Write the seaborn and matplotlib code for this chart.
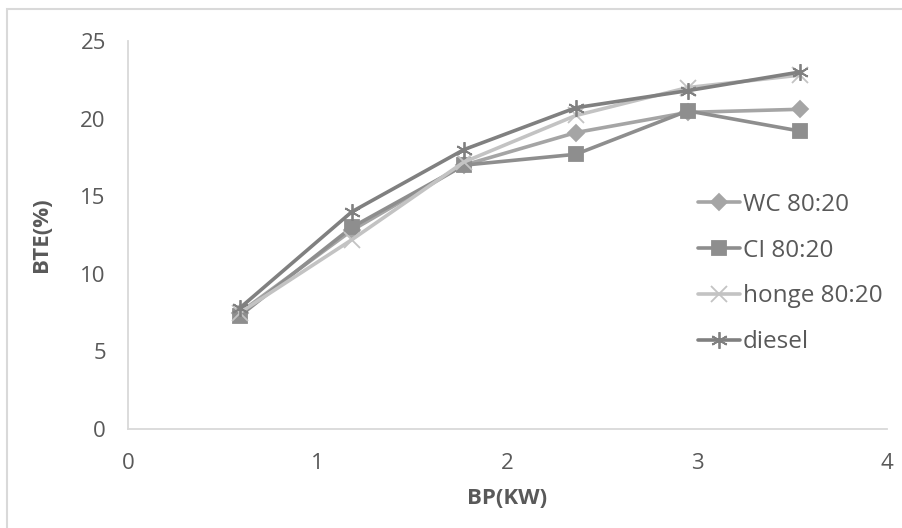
import matplotlib
matplotlib.use("Agg")
import matplotlib.pyplot as plt
import seaborn as sns
import pandas as pd
from matplotlib.lines import Line2D

bp = [0.59, 1.18, 1.77, 2.36, 2.95, 3.54]
wc = [7.5, 12.8, 17.0, 19.1, 20.4, 20.6]
ci = [7.3, 13.0, 17.0, 17.7, 20.5, 19.2]
honge = [7.5, 12.2, 17.2, 20.2, 22.0, 22.8]
diesel = [7.8, 14.0, 18.0, 20.7, 21.8, 23.0]
series_names = ["WC 80:20", "CI 80:20", "honge 80:20", "diesel"]

frames = []
for name, vals in zip(series_names, [wc, ci, honge, diesel]):
    frames.append(pd.DataFrame({"BP": bp, "BTE": vals, "fuel": name}))
df = pd.concat(frames, ignore_index=True)

sns.set_style("white")
plt.rcParams['font.family'] = ['Open Sans', 'DejaVu Sans']

colors = {"WC 80:20": "#a5a5a5", "CI 80:20": "#8e8e8e",
          "honge 80:20": "#c3c3c3", "diesel": "#808080"}
markers = {"WC 80:20": "D", "CI 80:20": "s", "honge 80:20": "x", "diesel": (6, 2, 0)}
msize = {"WC 80:20": 8, "CI 80:20": 10, "honge 80:20": 11, "diesel": 12}

fig = plt.figure(figsize=(9.02, 5.28), dpi=100)
ax = fig.add_axes([128/902, 1-429/528, (887-128)/902, (429-41)/528])

for name in series_names:
    sub = df[df.fuel == name]
    sns.lineplot(data=sub, x="BP", y="BTE", ax=ax, color=colors[name],
                 linewidth=2.6, marker=markers[name], markersize=msize[name],
                 markeredgecolor=colors[name], markerfacecolor=colors[name],
                 markeredgewidth=1.3, label=name, legend=False)

ax.set_xlim(0, 4)
ax.set_ylim(0, 25)
ax.set_xticks([0, 1, 2, 3, 4])
ax.set_yticks([0, 5, 10, 15, 20, 25])
ax.tick_params(axis='both', labelsize=16, colors="#595959", length=0)
ax.tick_params(axis='y', pad=16)
ax.tick_params(axis='x', pad=17)
for s in ["top", "right"]:
    ax.spines[s].set_visible(False)
for s in ["left", "bottom"]:
    ax.spines[s].set_color("#d9d9d9")
    ax.spines[s].set_linewidth(1.3)
ax.set_xlabel("BP(KW)", fontsize=16, fontweight="bold", color="#595959")
ax.set_ylabel("BTE(%)", fontsize=16, fontweight="bold", color="#595959")
ax.xaxis.set_label_coords(0.5, -(488-429)/388)
ax.yaxis.set_label_coords((52-128)/759, 0.5)

handles = [Line2D([0], [0], color=colors[n], linewidth=2.6, marker=markers[n],
                  markersize=msize[n], markerfacecolor=colors[n],
                  markeredgecolor=colors[n], markeredgewidth=1.3) for n in series_names]
leg = ax.legend(handles, series_names, loc="upper left",
                bbox_to_anchor=((688-128)/759, (429-183)/388), frameon=False,
                fontsize=17.5, labelspacing=0.9, handlelength=1.75, handletextpad=0.1,
                borderaxespad=0)
for t in leg.get_texts():
    t.set_color("#595959")

fig.add_artist(plt.Rectangle((7/902, -0.05), 1.2, 1-9/528+0.05, transform=fig.transFigure,
                             fill=False, edgecolor="#d9d9d9", linewidth=1.5))

fig.savefig("out.png", dpi=100)
